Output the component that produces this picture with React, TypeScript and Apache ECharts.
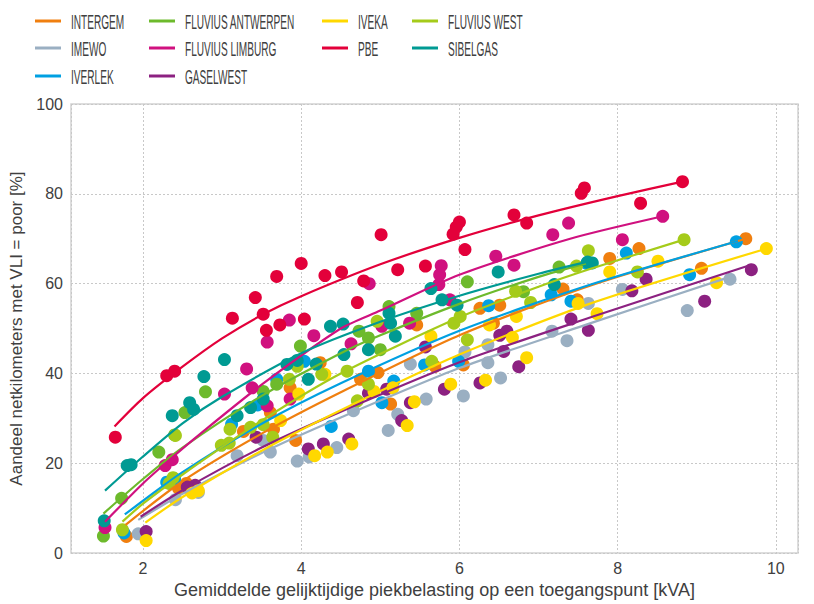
import React, { useEffect, useRef } from "react";
import * as echarts from "echarts";

// ---------- categories / colours ----------
const COMPANIES = [
  "INTERGEM",
  "IMEWO",
  "IVERLEK",
  "FLUVIUS ANTWERPEN",
  "FLUVIUS LIMBURG",
  "GASELWEST",
  "IVEKA",
  "PBE",
  "FLUVIUS WEST",
  "SIBELGAS",
];
const COLORS = [
  "#F07F0F",
  "#9AAFC2",
  "#00A0E2",
  "#6DBA2C",
  "#D0117F",
  "#8C2181",
  "#FFD800",
  "#E3003A",
  "#A5CB1A",
  "#009A93",
];

// ---------- measured points [kVA, %] ----------
const intergemPoints = [[1.79,3.7],[2.45,14.4],[2.55,15.5],[3.27,27.1],[3.61,31.3],[3.65,27.6],[3.86,36.8],[3.93,25.1],[4.24,42.4],[4.75,38.7],[4.97,40.2],[5.13,33.2],[5.46,50.8],[5.69,41.6],[6.05,41.9],[6.26,54.5],[6.43,51.2],[6.51,55.2],[7.31,58.8],[7.49,56.4],[7.90,65.6],[8.27,67.8],[9.06,63.4],[9.62,70.0]];
const imewoPoints = [[1.94,4.3],[2.41,11.9],[2.7,13.5],[3.19,21.7],[3.52,25.1],[3.61,22.5],[3.95,20.5],[4.10,21.4],[4.45,23.5],[4.66,31.7],[5.10,27.3],[5.22,30.9],[5.38,42.1],[5.58,34.3],[6.05,35.0],[6.07,44.8],[6.36,46.4],[6.36,42.4],[6.52,39.0],[7.17,49.4],[7.36,47.3],[7.63,55.6],[8.06,58.7],[8.88,54.0],[9.42,61.0]];
const iverlekPoints = [[1.76,4.5],[2.30,15.8],[2.40,16.5],[3.12,28.7],[3.45,33.0],[3.69,38.7],[4.04,42.7],[4.38,28.2],[4.85,40.5],[5.02,33.5],[5.17,38.3],[5.56,41.9],[5.99,42.7],[6.37,55.1],[7.16,57.5],[7.41,56.1],[7.61,64.5],[8.11,66.8],[8.91,62.0],[9.50,69.3]];
const antwerpenPoints = [[1.50,3.8],[1.73,12.2],[2.20,22.5],[2.40,26.3],[2.53,31.3],[2.79,35.9],[3.52,36.0],[3.69,37.6],[3.99,46.1],[4.73,49.4],[4.85,47.9],[5.0,45.3],[5.11,54.9],[5.46,53.4],[6.10,60.4],[6.81,58.2],[7.26,63.7]];
const limburgPoints = [[1.52,5.7],[2.28,19.5],[2.37,20.8],[3.03,35.4],[3.31,41.0],[3.38,36.8],[3.57,47.0],[3.57,32.8],[3.86,34.3],[3.85,51.9],[4.16,48.4],[4.63,46.6],[4.86,60.0],[5.02,50.5],[5.37,51.2],[5.74,59.8],[5.75,62.0],[5.77,64.0],[5.88,56.4],[6.46,66.1],[6.69,64.1],[7.18,70.9],[7.38,73.5],[8.06,69.8],[8.57,75.0]];
const gaselwestPoints = [[2.04,4.8],[2.56,14.7],[2.66,15.1],[3.43,25.8],[4.09,23.2],[4.28,24.3],[4.60,25.4],[4.85,35.6],[5.08,36.5],[5.27,29.5],[5.38,33.5],[5.57,45.9],[5.81,36.5],[6.26,37.9],[6.51,48.5],[6.60,49.4],[6.56,44.9],[6.75,41.5],[7.41,52.1],[7.63,49.6],[8.18,58.4],[8.36,61.0],[9.10,56.1],[9.69,63.1]];
const ivekaPoints = [[2.04,2.8],[2.62,13.4],[2.70,13.9],[3.74,29.5],[3.97,35.4],[4.17,21.7],[4.30,39.8],[4.33,22.5],[4.64,24.3],[4.92,36.0],[5.16,36.8],[5.34,28.4],[5.43,33.7],[5.64,48.3],[5.89,37.6],[6.33,38.5],[6.38,50.8],[6.67,48.0],[6.72,52.7],[6.85,43.5],[7.50,55.6],[7.74,53.3],[7.90,62.6],[8.51,65.0],[9.25,60.2],[9.88,67.8]];
const pbePoints = [[1.65,25.8],[2.30,39.5],[2.40,40.5],[3.13,52.3],[3.42,56.9],[3.52,53.2],[3.56,49.6],[3.69,61.6],[3.73,50.8],[4.0,64.5],[4.04,52.1],[4.30,61.8],[4.51,62.6],[4.71,55.8],[4.79,60.6],[5.01,70.9],[5.22,63.1],[5.57,63.9],[5.92,71.0],[5.96,72.6],[6.00,73.7],[6.07,67.6],[6.69,75.3],[6.85,73.5],[7.54,80.1],[7.58,81.3],[8.29,77.9],[8.82,82.7]];
const westPoints = [[1.74,5.2],[2.33,15.5],[2.38,16.8],[2.41,26.2],[2.99,24.0],[3.09,24.5],[3.10,27.6],[3.36,28.0],[3.52,28.6],[3.64,25.8],[3.85,38.7],[3.95,41.6],[4.26,39.8],[4.58,40.5],[4.71,33.9],[4.85,37.6],[4.96,51.6],[5.65,42.7],[5.93,51.2],[6.01,52.7],[6.10,47.5],[6.71,58.3],[6.90,55.8],[7.48,63.9],[7.63,67.3],[8.25,62.6],[8.84,69.8]];
const sibelgasPoints = [[1.51,7.2],[1.80,19.5],[1.85,19.7],[2.37,30.6],[2.59,33.5],[2.64,32.0],[2.77,39.3],[3.03,43.1],[3.19,30.6],[3.36,32.4],[3.52,34.3],[3.82,42.0],[3.95,42.9],[4.09,38.7],[4.19,42.1],[4.37,50.5],[4.53,51.0],[4.54,44.2],[4.85,45.3],[5.11,53.4],[5.13,51.2],[5.19,48.3],[5.64,58.9],[5.78,56.4],[5.97,55.2],[6.49,62.6],[7.20,59.8],[7.62,64.8],[7.68,64.6]];

// ---------- trend curves ----------
const intergemTrend = [[1.78,6.3],[2.5,16],[3.5,26.6],[4.5,35.8],[6.0,48.5],[7.66,59.6],[9.62,70.0]];
const imewoTrend = [[1.94,7.4],[2.5,13.2],[3.5,22.3],[4.5,30.2],[6.0,41.2],[7.66,51.2],[9.42,61.5]];
const iverlekTrend = [[1.77,8.6],[2.5,18],[3.5,28.8],[4.5,37.8],[6.0,49.5],[7.66,59.8],[9.52,69.5]];
const antwerpenTrend = [[1.50,8.8],[2.0,16.5],[2.5,23.5],[3.5,35],[4.5,44.5],[5.0,48.5],[6.0,55.5],[7.0,61.5],[7.6,64.5]];
const limburgTrend = [[1.52,7.0],[2.0,15.5],[2.35,21],[2.72,26.5],[3.5,37.5],[4.5,50],[5.0,54],[6.0,62],[7.4,70],[8.57,75]];
const gaselwestTrend = [[1.97,8.1],[2.5,14],[3.5,23.5],[4.5,31.5],[6.0,42.5],[7.66,52.5],[9.69,64.2]];
const ivekaTrend = [[2.03,6.8],[2.5,12.5],[3.5,22.8],[4.5,31.8],[6.0,44.2],[7.66,55.6],[9.88,67.8]];
const pbeTrend = [[1.64,28.2],[2.0,34.5],[2.5,41.5],[3.0,47.8],[3.5,53.0],[4.0,57.2],[5.0,64.3],[6.0,70.2],[7.0,75.2],[8.0,79.5],[8.82,82.7]];
const westTrend = [[1.74,7.0],[2.0,11],[2.5,17.5],[3.5,29.5],[4.5,40],[6.0,52.5],[7.0,59.3],[7.66,63.3],[8.84,69.8]];
const sibelgasTrend = [[1.52,13.9],[2.0,21.5],[2.5,28.9],[3.0,34.8],[4.0,44.5],[5.0,51.5],[6.0,57.3],[7.0,62.2],[7.65,65.0]];

const POINTS = [intergemPoints, imewoPoints, iverlekPoints, antwerpenPoints, limburgPoints, gaselwestPoints, ivekaPoints, pbePoints, westPoints, sibelgasPoints];
const TRENDS = [intergemTrend, imewoTrend, iverlekTrend, antwerpenTrend, limburgTrend, gaselwestTrend, ivekaTrend, pbeTrend, westTrend, sibelgasTrend];

// ---------- axes ----------
const X_MIN = 1.09;
const X_MAX = 10.28;
const Y_TICKS = [0, 20, 40, 60, 80, 100];
const X_TITLE = "Gemiddelde gelijktijdige piekbelasting op een toegangspunt [kVA]";
const Y_TITLE = "Aandeel netkilometers met VLI = poor [%]";

// legend layout: column positions and rows (column-major order)
const LEGEND_COLUMNS = [[0, 1, 2], [3, 4, 5], [6, 7], [8, 9]];
const LEGEND_COL_X = [35, 149, 322, 412];
const LEGEND_ROW_Y = [21, 48, 76];

const FONT = "'Liberation Sans', Arial, sans-serif";
const TEXT_COLOR = "#404040";

export default function App() {
  const ref = useRef<HTMLDivElement>(null);

  useEffect(() => {
    if (!ref.current) return;
    const chart = echarts.init(ref.current, undefined, { renderer: "svg" });

    const scatterSeries = COMPANIES.map((name, i) => ({
      name,
      type: "scatter",
      data: POINTS[i],
      symbol: "circle",
      symbolSize: 13,
      itemStyle: { color: COLORS[i], opacity: 1 },
      z: 2,
    }));
    const lineSeries = COMPANIES.map((name, i) => ({
      name: name + " trend",
      type: "line",
      data: TRENDS[i],
      showSymbol: false,
      symbol: "none",
      smooth: 0.25,
      lineStyle: { color: COLORS[i], width: 2.2 },
      z: 3,
    }));

    const legendEls: any[] = [];
    LEGEND_COLUMNS.forEach((col, c) => {
      col.forEach((idx, r) => {
        const x0 = LEGEND_COL_X[c];
        const y0 = LEGEND_ROW_Y[r];
        legendEls.push({
          type: "line",
          shape: { x1: x0, y1: y0, x2: x0 + 26, y2: y0 },
          style: { stroke: COLORS[idx], lineWidth: 3 },
        });
        legendEls.push({
          type: "text",
          x: x0 + 36,
          y: y0 + 1,
          scaleX: 0.505,
          style: {
            text: COMPANIES[idx],
            font: `20px ${FONT}`,
            fill: TEXT_COLOR,
            verticalAlign: "middle",
            align: "left",
          },
        });
      });
    });

    chart.setOption({
      animation: false,
      backgroundColor: "#ffffff",
      textStyle: { fontFamily: FONT },
      grid: {
        left: 71,
        right: 16,
        top: 104,
        bottom: 47,
        show: true,
        borderColor: "#D2D2D2",
        borderWidth: 1.5,
        containLabel: false,
      },
      xAxis: {
        type: "value",
        min: X_MIN,
        max: X_MAX,
        splitNumber: 5,
        name: X_TITLE,
        nameLocation: "middle",
        nameGap: 34,
        nameTextStyle: { fontSize: 18, color: TEXT_COLOR, fontFamily: FONT, verticalAlign: "middle" },
        axisLine: { show: false },
        axisTick: { show: false },
        axisLabel: {
          fontSize: 16,
          color: TEXT_COLOR,
          margin: 7,
          showMinLabel: false,
          showMaxLabel: false,
          formatter: (v: number) => (Math.abs(v / 2 - Math.round(v / 2)) < 1e-6 ? String(v) : ""),
        },
        splitLine: { show: true, lineStyle: { color: "#C8C8C8", type: [2, 2], width: 1 } },
      },
      yAxis: {
        type: "value",
        min: Y_TICKS[0],
        max: Y_TICKS[Y_TICKS.length - 1],
        interval: Y_TICKS[1] - Y_TICKS[0],
        name: Y_TITLE,
        nameLocation: "middle",
        nameGap: 52,
        nameRotate: 90,
        nameTextStyle: { fontSize: 17, color: TEXT_COLOR, fontFamily: FONT, verticalAlign: "middle" },
        axisLine: { show: false },
        axisTick: { show: false },
        axisLabel: { fontSize: 16, color: TEXT_COLOR, margin: 8 },
        splitLine: { show: true, lineStyle: { color: "#C8C8C8", type: [2, 2], width: 1 } },
      },
      graphic: legendEls,
      series: [...scatterSeries, ...lineSeries],
    });

    return () => chart.dispose();
  }, []);

  return (
    <div
      ref={ref}
      style={{ position: "fixed", left: 0, top: 0, width: 814, height: 604 }}
    />
  );
}
